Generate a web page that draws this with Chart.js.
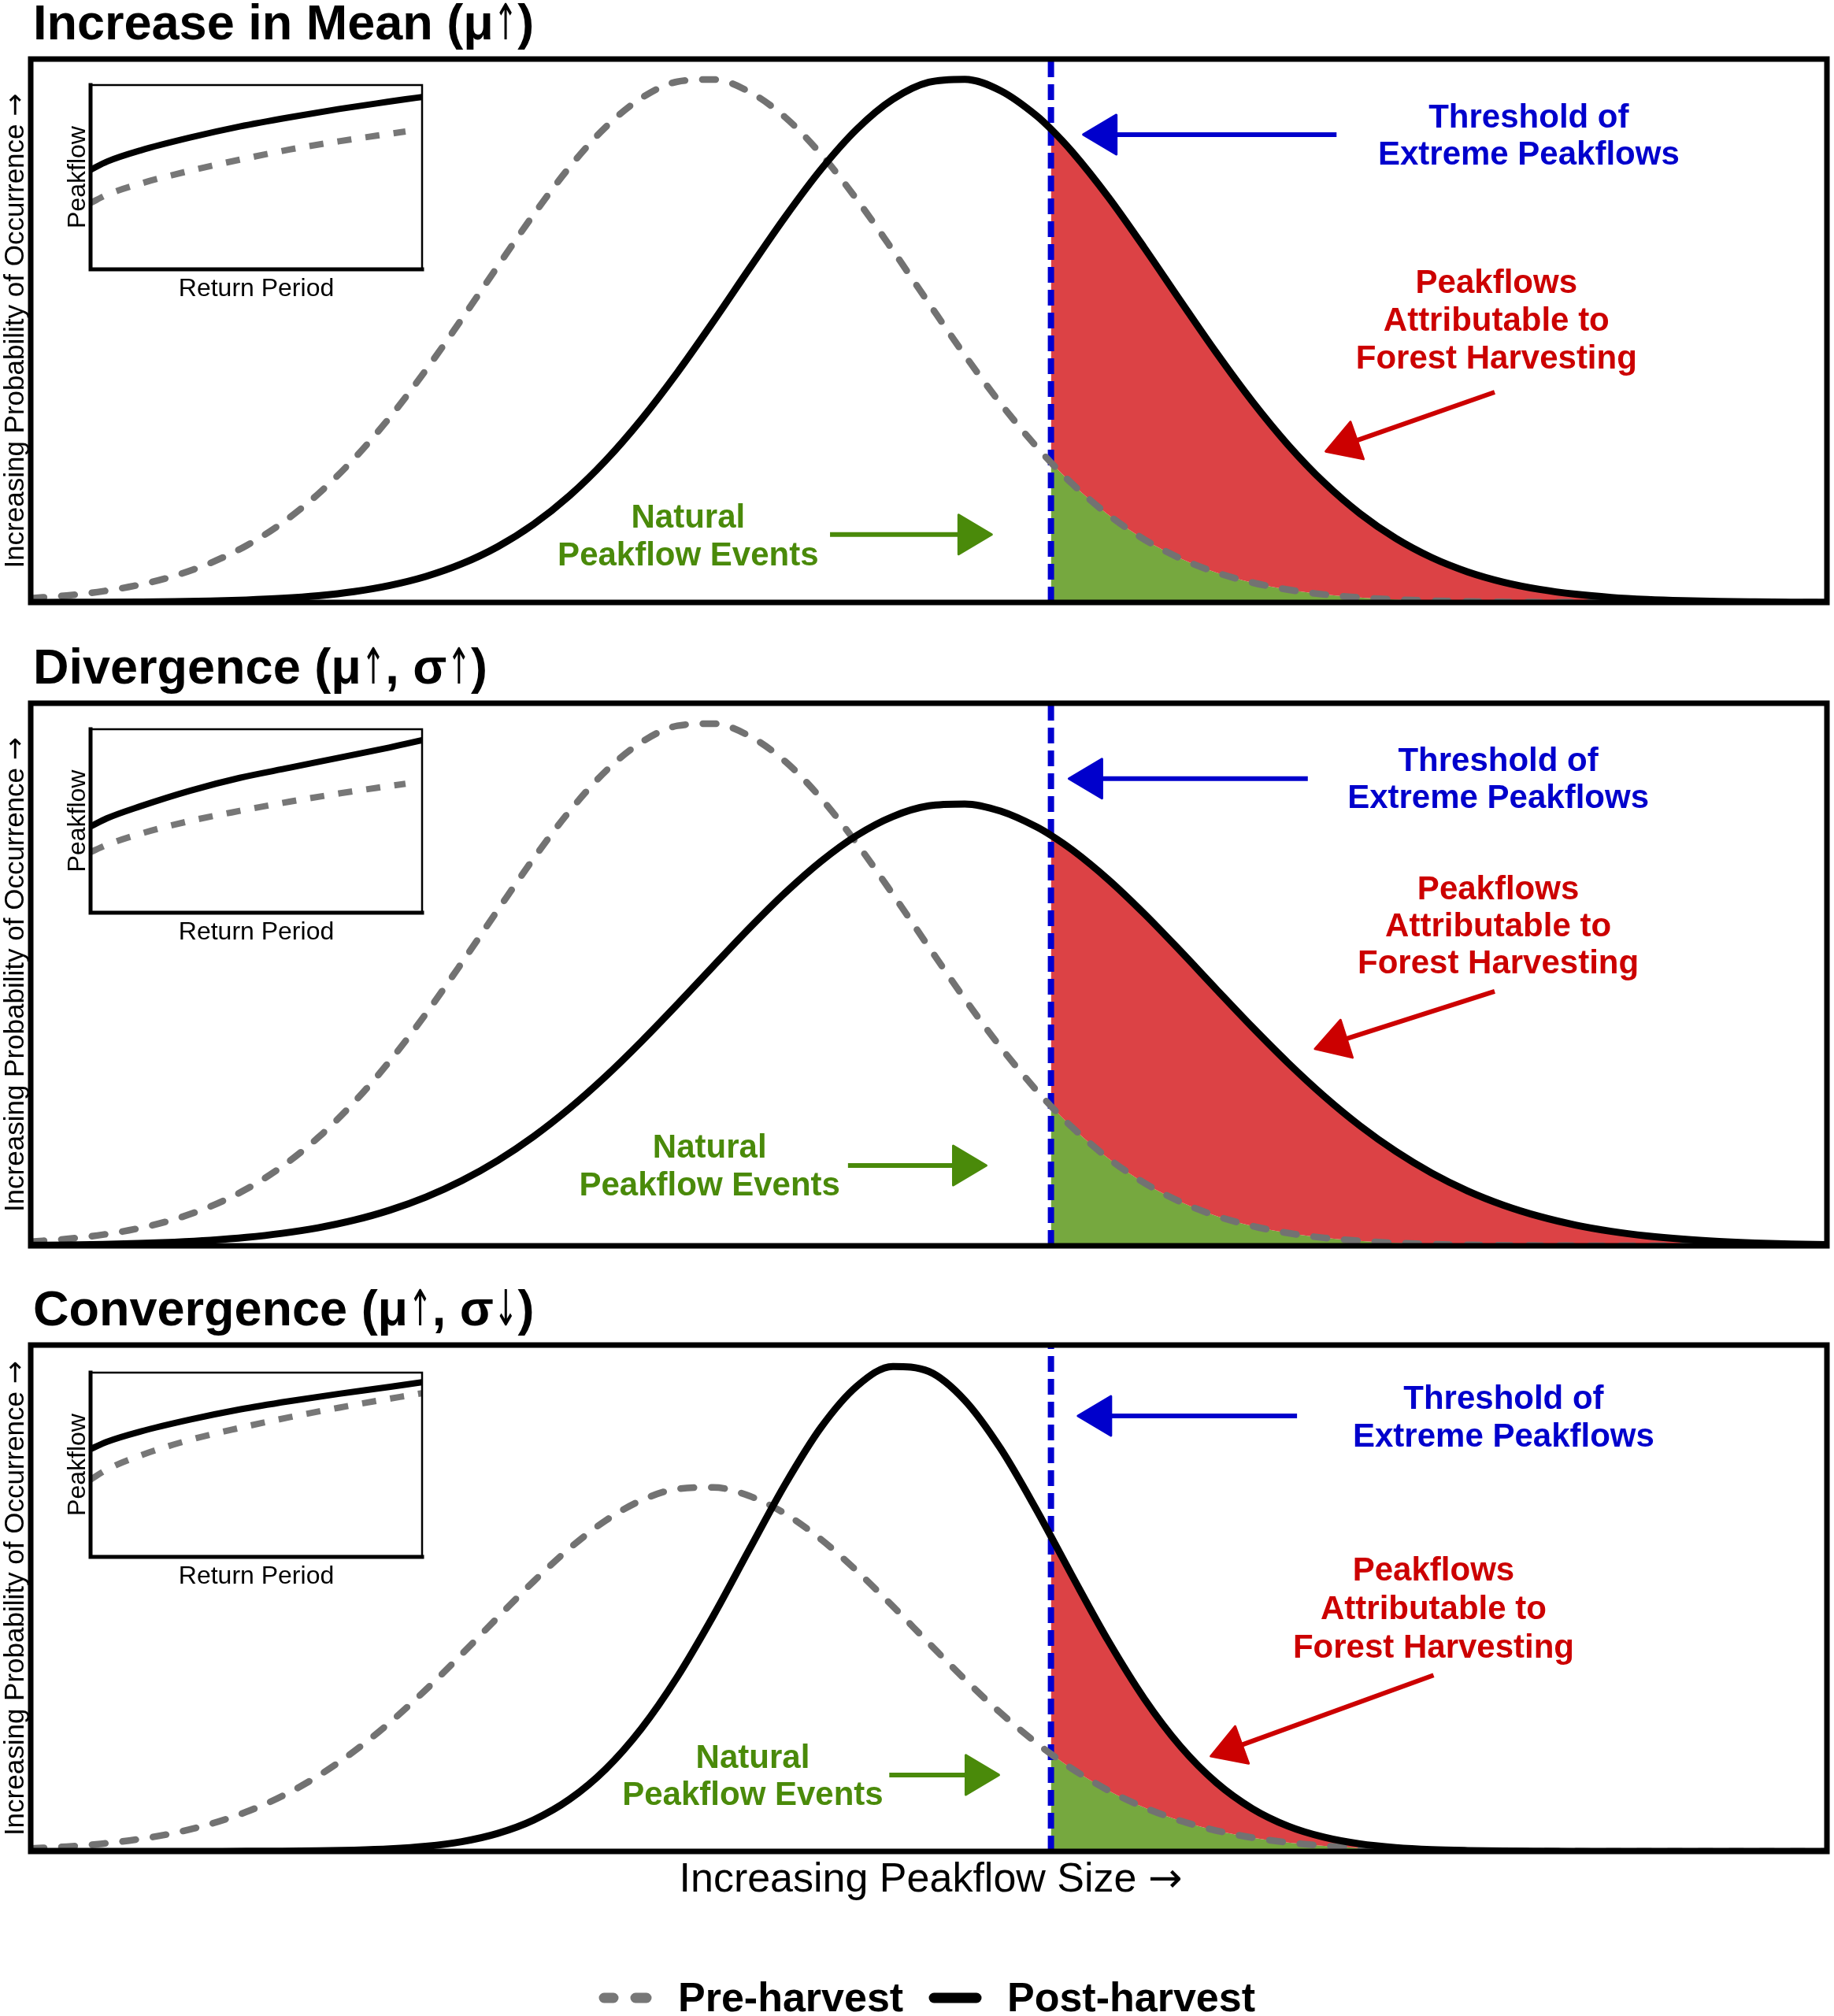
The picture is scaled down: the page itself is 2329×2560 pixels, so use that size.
<!DOCTYPE html>
<html>
<head>
<meta charset="utf-8">
<script src="https://cdn.jsdelivr.net/npm/chart.js@4.4.1/dist/chart.umd.min.js"></script>
<style>
body{margin:0;background:#fff}
#page{position:relative;width:2329px;height:2560px;overflow:hidden}
#page canvas{position:absolute;left:0}
</style>
</head>
<body>
<div id="page">
<canvas id="p1" width="2329" height="800" style="top:0px"></canvas>
<canvas id="p2" width="2329" height="800" style="top:800px"></canvas>
<canvas id="p3" width="2329" height="960" style="top:1600px"></canvas>
<canvas id="i1" width="600" height="320" style="top:88px"></canvas>
<canvas id="i2" width="600" height="320" style="top:906px"></canvas>
<canvas id="i3" width="600" height="320" style="top:1723px"></canvas>
</div>
<script>
// peakflow size (0-100 across the panel), threshold included as its own point
const xs=[0,2,4,6,8,10,12,14,16,18,20,22,24,26,28,30,32,34,36,38,40,42,44,46,48,50,52,54,56,56.8,
58,60,62,64,66,68,70,72,74,76,78,80,82,84,86,88,90,92,94,96,98,100]
const threshold=56.8

// relative probability
const preA=[0.0077,0.0127,0.0205,0.0321,0.0489,0.0725,0.1044,0.1463,0.1995,0.2645,0.3410,0.4276,0.5216,0.6187,0.7139,0.8012,0.8745,0.9282,0.9584,0.9624,0.9399,0.8929,0.8249,0.7412,0.6478,0.5507,0.4552,0.3660,0.2863,0.2575,
0.2178,0.1611,0.1159,0.0811,0.0552,0.0366,0.0235,0.0147,0.0090,0.0053,0.0031,0.0017,0.0009,0.0005,0.0002,0.0001,0,0,0,0,0,0]
const post1=[0.0001,0.0002,0.0004,0.0008,0.0014,0.0025,0.0044,0.0075,0.0124,0.0200,0.0314,0.0479,0.0711,0.1026,0.1440,0.1966,0.2609,0.3369,0.4231,0.5168,0.6139,0.7093,0.7971,0.8712,0.9261,0.9574,0.9628,0.9417,0.8957,0.8712,
0.8287,0.7457,0.6526,0.5555,0.4599,0.3703,0.2900,0.2209,0.1636,0.1179,0.0826,0.0563,0.0373,0.0241,0.0151,0.0092,0.0055,0.0032,0.0018,0.0010,0.0005,0.0003]
const post2=[0.0010,0.0016,0.0026,0.0042,0.0067,0.0103,0.0155,0.0230,0.0333,0.0473,0.0659,0.0899,0.1201,0.1571,0.2016,0.2534,0.3120,0.3765,0.4450,0.5154,0.5850,0.6505,0.7087,0.7566,0.7913,0.8109,0.8143,0.8011,0.7721,0.7566,
0.7293,0.6748,0.6119,0.5436,0.4731,0.4035,0.3372,0.2760,0.2214,0.1741,0.1341,0.1011,0.0748,0.0542,0.0384,0.0267,0.0182,0.0122,0.0080,0.0051,0.0032,0.0020]
const pre3=[0.0058,0.0095,0.0153,0.0240,0.0365,0.0542,0.0780,0.1093,0.1490,0.1976,0.2547,0.3194,0.3896,0.4622,0.5333,0.5985,0.6532,0.6934,0.7159,0.7189,0.7021,0.6670,0.6162,0.5537,0.4839,0.4114,0.3400,0.2734,0.2139,0.1924,
0.1627,0.1203,0.0866,0.0606,0.0412,0.0273,0.0176,0.0110,0.0067,0.0040,0.0023,0.0013,0.0007,0.0004,0.0002,0.0001,0,0,0,0,0,0]
const post3=[0,0,0,0,0,0.0001,0.0002,0.0004,0.0010,0.0023,0.0049,0.0100,0.0193,0.0356,0.0621,0.1030,0.1622,0.2427,0.3447,0.4650,0.5957,0.7248,0.8375,0.9190,0.9578,0.9479,0.8910,0.7954,0.6743,0.6221,
0.5429,0.4151,0.3014,0.2078,0.1361,0.0847,0.0500,0.0281,0.0149,0.0076,0.0036,0.0017,0.0007,0.0003,0.0001,0,0,0,0,0,0,0]

// inset: peakflow against return period
const insetX=[0,0.05,0.15,0.3,0.45,0.6,0.75,0.9,0.95,1]
const in1Post=[0.54,0.585,0.645,0.715,0.775,0.825,0.87,0.91,0.923,0.935]
const in1Pre=[0.36,0.405,0.465,0.535,0.595,0.65,0.695,0.735,0.748,null]
const in2Post=[0.47,0.515,0.58,0.665,0.735,0.79,0.845,0.90,0.92,0.94]
const in2Pre=[0.33,0.37,0.43,0.50,0.555,0.605,0.65,0.69,0.703,null]
const in3Post=[0.585,0.625,0.68,0.745,0.80,0.845,0.885,0.922,0.935,0.948]
const in3Pre=[0.42,0.475,0.55,0.635,0.70,0.758,0.81,0.858,0.873,0.888]

const FONT='"Liberation Sans", Arial, Helvetica, sans-serif'
const ARROWFONT='"DejaVu Sans", sans-serif'
const BLUE='#0000cc',RED='#cc0000',GREEN='#4a8a0a'

// annotation placement in data units of each panel
const notes=[
{title:'Increase in Mean (\u03bc\u2191)',pad:[75,35],
 blue:[83.4,0.874,0.806],blueArrow:[72.7,0.861,58.6,0.861],
 red:[81.6,0.570,0.500,0.430],redArrow:[81.5,0.387,72.1,0.278],
 green:[36.6,0.138,0.068],greenArrow:[44.5,0.125,53.5,0.125]},
{title:'Divergence (\u03bc\u2191, \u03c3\u2191)',pad:[93,18],
 blue:[81.7,0.875,0.807],blueArrow:[71.1,0.861,57.8,0.861],
 red:[81.7,0.639,0.570,0.502],redArrow:[81.5,0.469,71.5,0.363],
 green:[37.8,0.163,0.093],greenArrow:[45.5,0.148,53.2,0.148]},
{title:'Convergence (\u03bc\u2191, \u03c3\u2193)',pad:[108,209],last:true,
 blue:[82.0,0.874,0.799],blueArrow:[70.5,0.860,58.3,0.860],
 red:[78.1,0.535,0.459,0.383],redArrow:[78.1,0.348,65.7,0.188],
 green:[40.2,0.165,0.092],greenArrow:[47.8,0.151,53.9,0.151]}
]

// text with arrow glyphs taken from a thinner font; vertical arrows squeezed
function runs(ctx,text,x,y,size,weight,align){
const parts=text.split(/([\u2190-\u2193])/).filter(s=>s)
const isArrow=s=>/[\u2190-\u2193]/.test(s)
const squeeze=s=>/[\u2191\u2193]/.test(s)?0.58:1
const fontOf=s=>isArrow(s)?size+'px '+ARROWFONT:weight+size+'px '+FONT
let w=0
parts.forEach(p=>{ctx.font=fontOf(p);w+=ctx.measureText(p).width*squeeze(p)})
let cx=align=='center'?x-w/2:x
ctx.textAlign='left';ctx.textBaseline='alphabetic'
parts.forEach(p=>{
ctx.font=fontOf(p)
let k=squeeze(p)
ctx.save();ctx.translate(cx,y);ctx.scale(k,1);ctx.fillText(p,0,0);ctx.restore()
cx+=ctx.measureText(p).width*k
})
}

function arrow(ctx,x1,y1,x2,y2,color){
let a=Math.atan2(y2-y1,x2-x1),L=42,W=25
let bx=x2-L*Math.cos(a),by=y2-L*Math.sin(a)
ctx.strokeStyle=color;ctx.lineWidth=6;ctx.lineCap='butt'
ctx.beginPath();ctx.moveTo(x1,y1);ctx.lineTo(bx+2*Math.cos(a),by+2*Math.sin(a));ctx.stroke()
ctx.fillStyle=color;ctx.lineJoin='round';ctx.lineWidth=3
ctx.beginPath();ctx.moveTo(x2,y2)
ctx.lineTo(bx+W*Math.sin(a),by-W*Math.cos(a))
ctx.lineTo(bx-W*Math.sin(a),by+W*Math.cos(a))
ctx.closePath();ctx.fill();ctx.stroke()
}

function lines(ctx,sx,sy,spec,texts,color){
ctx.fillStyle=color;ctx.font='bold 42px '+FONT;ctx.textAlign='center';ctx.textBaseline='alphabetic'
texts.forEach((t,i)=>ctx.fillText(t,sx.getPixelForValue(spec[0]),sy.getPixelForValue(spec[i+1])))
}

const deco={
id:'deco',
afterDraw(chart){
const n=chart.options.plugins.deco.note
const ctx=chart.ctx,a=chart.chartArea,sx=chart.scales.x,sy=chart.scales.y
ctx.save()
ctx.strokeStyle='#000';ctx.lineWidth=7;ctx.lineJoin='miter'
ctx.strokeRect(a.left,a.top,a.right-a.left,a.bottom-a.top)

ctx.fillStyle='#000'
runs(ctx,n.title,42,a.top-25,63,'bold ','left')

ctx.save();ctx.translate(30,(a.top+a.bottom)/2);ctx.rotate(-Math.PI/2)
ctx.fillStyle='#000'
runs(ctx,'Increasing Probability of Occurrence \u2192',0,0,35,'','center')
ctx.restore()

lines(ctx,sx,sy,n.blue,['Threshold of','Extreme Peakflows'],BLUE)
lines(ctx,sx,sy,n.red,['Peakflows','Attributable to','Forest Harvesting'],RED)
lines(ctx,sx,sy,n.green,['Natural','Peakflow Events'],GREEN)
let b=n.blueArrow,r=n.redArrow,g=n.greenArrow
arrow(ctx,sx.getPixelForValue(b[0]),sy.getPixelForValue(b[1]),sx.getPixelForValue(b[2]),sy.getPixelForValue(b[3]),BLUE)
arrow(ctx,sx.getPixelForValue(r[0]),sy.getPixelForValue(r[1]),sx.getPixelForValue(r[2]),sy.getPixelForValue(r[3]),RED)
arrow(ctx,sx.getPixelForValue(g[0]),sy.getPixelForValue(g[1]),sx.getPixelForValue(g[2]),sy.getPixelForValue(g[3]),GREEN)

if(n.last){
ctx.fillStyle='#000'
runs(ctx,'Increasing Peakflow Size \u2192',1182,a.bottom+51,52,'','center')
let ly=a.bottom+186
ctx.lineCap='round';ctx.lineWidth=13
ctx.strokeStyle='#777';ctx.beginPath();ctx.moveTo(767,ly);ctx.lineTo(779,ly);ctx.moveTo(807,ly);ctx.lineTo(821,ly);ctx.stroke()
ctx.strokeStyle='#000';ctx.beginPath();ctx.moveTo(1186,ly);ctx.lineTo(1240,ly);ctx.stroke()
ctx.font='bold 52px '+FONT;ctx.textAlign='left';ctx.fillStyle='#000'
ctx.fillText('Pre-harvest',861,ly+17)
ctx.fillText('Post-harvest',1279,ly+17)
}
ctx.restore()
}
}

function pts(ys){return xs.map((x,i)=>({x:x,y:ys[i]}))}
function tail(ys){return pts(ys).filter(p=>p.x>=threshold)}

function panel(id,pre,post,note){
return new Chart(document.getElementById(id),{
type:'line',
data:{datasets:[
{data:pts(post),borderColor:'#000',borderWidth:9,cubicInterpolationMode:'monotone',borderJoinStyle:'round',order:1},
{data:pts(pre),borderColor:'#727272',borderWidth:8.5,borderDash:[17,22],borderCapStyle:'round',cubicInterpolationMode:'monotone',order:2},
{data:[{x:threshold,y:0},{x:threshold,y:1}],borderColor:'#0000d0',borderWidth:8,borderDash:[20,9],tension:0,order:3},
{data:tail(post),borderWidth:0,backgroundColor:'#dc4245',fill:'+1',cubicInterpolationMode:'monotone',order:4},
{data:tail(pre),borderWidth:0,backgroundColor:'#76a83f',fill:'origin',cubicInterpolationMode:'monotone',order:5}
]},
options:{
responsive:false,animation:false,devicePixelRatio:1,events:[],
layout:{padding:{left:39,right:9,top:note.pad[0],bottom:note.pad[1]}},
elements:{point:{radius:0}},
scales:{x:{type:'linear',min:0,max:100,display:false},y:{min:0,max:1,display:false}},
plugins:{legend:{display:false},tooltip:{enabled:false},deco:{note:note}}
},
plugins:[deco]
})
}

const insetDeco={
id:'insetDeco',
beforeDatasetsDraw(chart){
const a=chart.chartArea,ctx=chart.ctx
ctx.save();ctx.fillStyle='#fff';ctx.fillRect(a.left,a.top,a.right-a.left,a.bottom-a.top);ctx.restore()
},
afterDraw(chart){
const a=chart.chartArea,ctx=chart.ctx
ctx.save();ctx.strokeStyle='#000';ctx.lineCap='square'
ctx.lineWidth=2.5;ctx.beginPath();ctx.moveTo(a.left,a.top);ctx.lineTo(a.right,a.top);ctx.lineTo(a.right,a.bottom);ctx.stroke()
ctx.lineWidth=5;ctx.beginPath();ctx.moveTo(a.left,a.top);ctx.lineTo(a.left,a.bottom);ctx.lineTo(a.right,a.bottom);ctx.stroke()
ctx.fillStyle='#000';ctx.font='32px '+FONT;ctx.textAlign='center';ctx.textBaseline='alphabetic'
ctx.fillText('Return Period',(a.left+a.right)/2,a.bottom+34)
ctx.translate(108,(a.top+a.bottom)/2);ctx.rotate(-Math.PI/2)
ctx.fillText('Peakflow',0,0)
ctx.restore()
}
}

function inset(id,post,pre,h){
return new Chart(document.getElementById(id),{
type:'line',
data:{datasets:[
{data:insetX.map((x,i)=>({x:x,y:post[i]})),borderColor:'#000',borderWidth:8,cubicInterpolationMode:'monotone'},
{data:insetX.map((x,i)=>({x:x,y:pre[i]})),borderColor:'#777',borderWidth:8,borderDash:[18,18],cubicInterpolationMode:'monotone'}
]},
options:{
responsive:false,animation:false,devicePixelRatio:1,events:[],
layout:{padding:{left:115,right:64,top:20,bottom:320-20-h}},
elements:{point:{radius:0}},
scales:{x:{type:'linear',min:0,max:1,display:false},y:{min:0,max:1,display:false}},
plugins:{legend:{display:false},tooltip:{enabled:false}}
},
plugins:[insetDeco]
})
}

panel('p1',preA,post1,notes[0])
panel('p2',preA,post2,notes[1])
panel('p3',pre3,post3,notes[2])
inset('i1',in1Post,in1Pre,234)
inset('i2',in2Post,in2Pre,233)
inset('i3',in3Post,in3Pre,234)
</script>
</body>
</html>
